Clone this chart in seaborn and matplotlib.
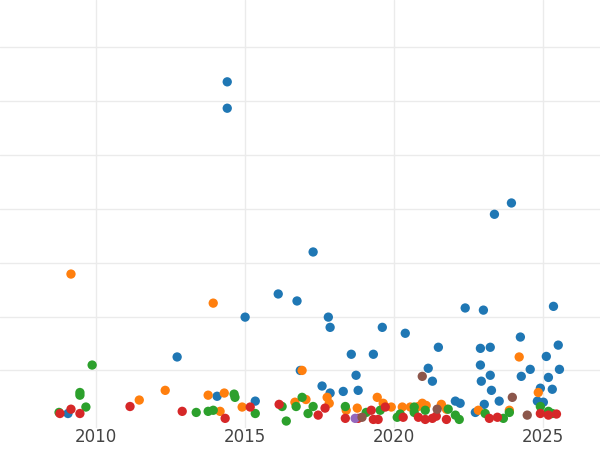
import numpy as np
import pandas as pd
import matplotlib.pyplot as plt
import seaborn as sns

# ============== DATA ==============
blue_year = [2009.06, 2012.72, 2014.06, 2014.40, 2014.40, 2015.00, 2015.34, 2016.11, 2016.74, 2016.85,
             2017.28, 2017.58, 2017.79, 2017.85, 2017.85, 2018.29, 2018.56, 2018.72, 2018.79, 2019.30,
             2019.60, 2020.37, 2021.14, 2021.28, 2021.48, 2022.05, 2022.21, 2022.38, 2022.72, 2022.89,
             2022.89, 2022.92, 2022.99, 2023.02, 2023.22, 2023.22, 2023.26, 2023.36, 2023.52, 2023.93,
             2024.23, 2024.26, 2024.56, 2024.80, 2024.90, 2025.00, 2025.10, 2025.17, 2025.30, 2025.34,
             2025.50, 2025.54]
blue_val = [0.20, 1.25, 0.52, 6.36, 5.87, 1.99, 0.43, 2.42, 2.29, 1.00,
            3.20, 0.71, 1.99, 1.80, 0.58, 0.61, 1.30, 0.91, 0.63, 1.30,
            1.80, 1.69, 1.04, 0.80, 1.43, 0.43, 0.39, 2.16, 0.22, 1.10,
            1.41, 0.80, 2.12, 0.37, 1.43, 0.91, 0.63, 3.90, 0.43, 4.11,
            1.62, 0.89, 1.02, 0.43, 0.67, 0.41, 1.26, 0.87, 0.65, 2.19,
            1.47, 1.02]

orange_year = [2009.16, 2011.45, 2012.32, 2013.76, 2013.93, 2014.16, 2014.30, 2014.90, 2016.67, 2016.91,
               2017.04, 2017.75, 2017.82, 2018.39, 2018.76, 2019.43, 2019.63, 2019.90, 2020.27, 2020.54,
               2020.81, 2020.94, 2021.07, 2021.58, 2021.75, 2022.82, 2023.86, 2024.19, 2024.83]
orange_val = [2.79, 0.45, 0.63, 0.54, 2.25, 0.24, 0.58, 0.32, 0.41, 1.00,
              0.46, 0.50, 0.39, 0.26, 0.30, 0.50, 0.39, 0.32, 0.32, 0.32,
              0.33, 0.39, 0.35, 0.37, 0.28, 0.26, 0.26, 1.25, 0.59]

green_year = [2008.76, 2009.46, 2009.46, 2009.66, 2009.87, 2013.36, 2013.76, 2013.93, 2014.63, 2014.66,
              2015.34, 2016.24, 2016.38, 2016.71, 2016.91, 2017.11, 2017.28, 2018.36, 2019.06, 2019.53,
              2020.10, 2020.20, 2020.67, 2020.67, 2021.04, 2021.81, 2022.05, 2022.18, 2023.05, 2023.66,
              2023.86, 2024.90, 2025.17, 2025.30]
green_val = [0.22, 0.59, 0.54, 0.32, 1.10, 0.22, 0.24, 0.26, 0.56, 0.50,
             0.20, 0.33, 0.06, 0.33, 0.50, 0.20, 0.33, 0.33, 0.22, 0.26,
             0.13, 0.19, 0.22, 0.32, 0.26, 0.28, 0.17, 0.09, 0.20, 0.11,
             0.22, 0.33, 0.24, 0.20]

red_year = [2008.79, 2009.16, 2009.46, 2011.14, 2012.89, 2014.33, 2015.17, 2016.14, 2017.449, 2017.68,
            2018.36, 2018.79, 2019.23, 2019.30, 2019.46, 2019.70, 2020.30, 2020.81, 2021.04, 2021.28,
            2021.41, 2021.75, 2023.19, 2023.46, 2024.90, 2025.17, 2025.44]
red_val = [0.20, 0.28, 0.20, 0.33, 0.24, 0.11, 0.32, 0.37, 0.17, 0.30,
           0.11, 0.11, 0.26, 0.09, 0.09, 0.32, 0.13, 0.13, 0.09, 0.11,
           0.15, 0.09, 0.11, 0.13, 0.20, 0.17, 0.19]

purple_year = [2018.69]
purple_val = [0.11]

brown_year = [2018.92, 2020.94, 2021.44, 2023.96, 2024.46]
brown_val = [0.13, 0.89, 0.28, 0.50, 0.17]
# ==================================

groups = [("blue", blue_year, blue_val), ("orange", orange_year, orange_val),
          ("green", green_year, green_val), ("red", red_year, red_val),
          ("purple", purple_year, purple_val), ("brown", brown_year, brown_val)]
df = pd.concat([pd.DataFrame({"year": y, "value": v, "group": g}) for g, y, v in groups],
               ignore_index=True)

sns.set_theme(style="whitegrid")
fig = plt.figure(figsize=(6, 4.5), dpi=100)
ax = fig.add_axes([0, 0.05, 1, 0.95])

palette = {"blue": "#1f77b4", "orange": "#ff7f0e", "green": "#2ca02c",
           "red": "#d62728", "purple": "#9467bd", "brown": "#8c564b"}
sns.scatterplot(data=df, x="year", y="value", hue="group", palette=palette,
                s=45, linewidth=0, alpha=1, legend=False, ax=ax)

ax.set_xlim(2006.78, 2026.9)
ax.set_ylim(-0.06, 7.88)
ax.set_xticks([2010, 2015, 2020, 2025])
ax.set_yticks(np.arange(1, 8))
ax.set_yticklabels([])
ax.tick_params(axis="x", labelsize=12, colors="#444444", pad=0, length=0)
ax.tick_params(axis="y", length=0)
ax.grid(color="#ebebeb", linewidth=1)
ax.set_xlabel("")
ax.set_ylabel("")
for sp in ax.spines.values():
    sp.set_visible(False)

fig.savefig("out.png", dpi=100)
